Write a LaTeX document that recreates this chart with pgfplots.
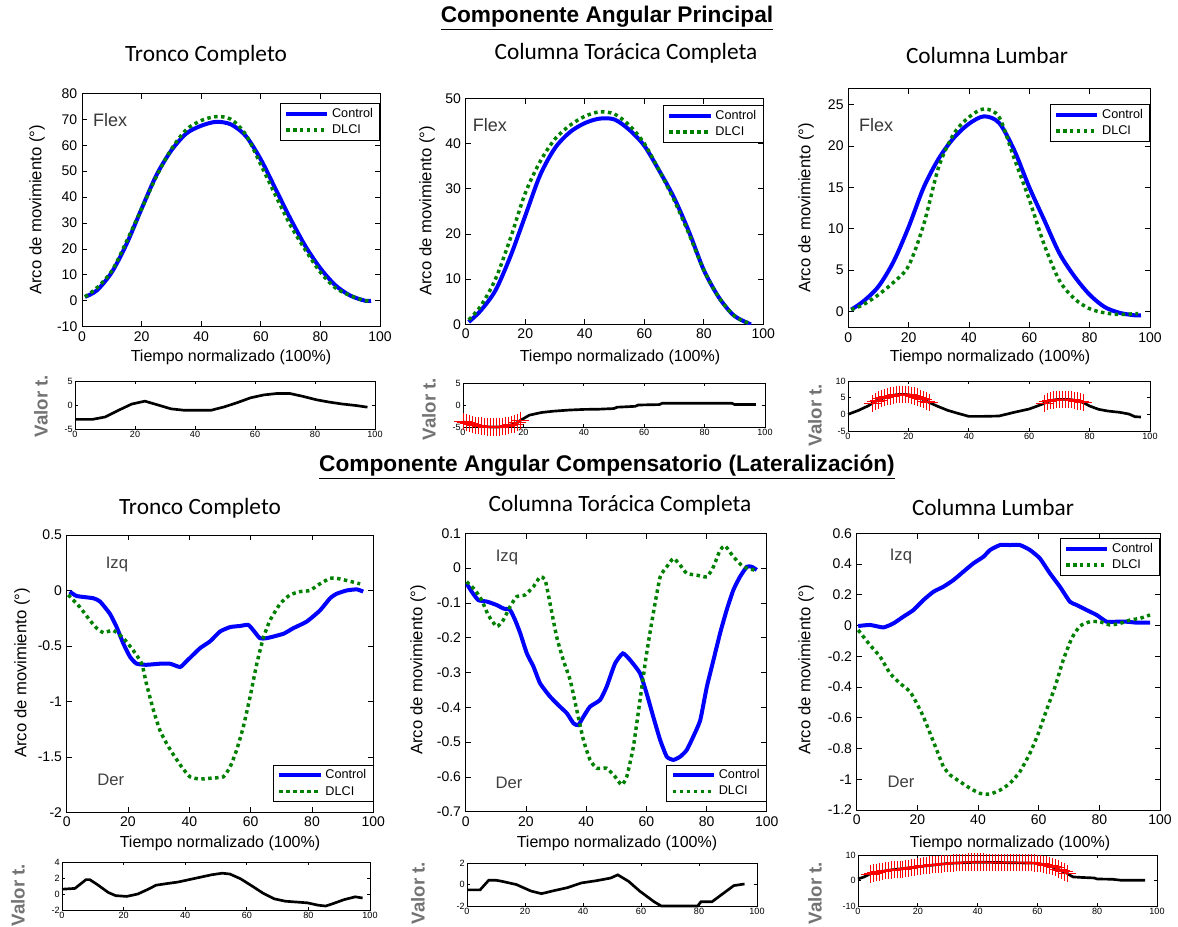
\documentclass[border=0pt]{standalone}
\usepackage{pgfplots}
\pgfplotsset{compat=1.18}
\usepackage{fontspec}
\setmainfont{Liberation Sans}
\newfontfamily\calib{Carlito}
\definecolor{dgreen}{rgb}{0,0.5,0}
\pgfplotsset{
 base/.style={scale only axis, anchor=north west, xmin=0, xmax=100, xtick={0,20,40,60,80,100},
   tick align=inside, tick pos=both, axis line style={line width=0.6pt},
   every tick/.style={line width=0.5pt, black}, /pgf/number format/assume math mode=true},
 mainax/.style={base, major tick length=4pt, ticklabel style={font=\fontsize{10.5}{12}\selectfont},
   legend style={draw=black, fill=white, line width=0.6pt, font=\fontsize{9.5}{11}\selectfont,
     inner xsep=3pt, inner ysep=1.5pt, legend cell align=left},
   legend image code/.code={\draw[#1] (0pt,0pt) -- (31pt,0pt);}},
 smallax/.style={base, major tick length=2pt, ticklabel style={font=\fontsize{6.8}{7}\selectfont, inner sep=1.5pt}, clip=false},
 ctrl/.style={blue, line width=3pt},
 dlci/.style={color=dgreen, line width=2.6pt, dash pattern=on 2.6pt off 2.6pt},
 tline/.style={black, line width=2pt},
 tred/.style={red, line width=1.2pt, mark=+, mark size=6.5pt, mark options={line width=0.55pt, solid}},
}
\tikzset{
 flexlab/.style={font=\fontsize{13.5}{15}\selectfont, text=black!78},
 sidelab/.style={font=\fontsize{12.5}{14}\selectfont, text=black!75},
 subt/.style={font=\calib\fontsize{17.5}{20}\selectfont},
 xlab/.style={font=\fontsize{12}{14}\selectfont},
 ylab/.style={font=\fontsize{12.5}{14}\selectfont, rotate=90},
 vlab/.style={font=\bfseries\fontsize{14}{16}\selectfont, text=black!55, rotate=90},
 bigt/.style={font=\bfseries\fontsize{17}{20}\selectfont},
}
\begin{document}
\begin{tikzpicture}
\fill[white] (0,0) rectangle (883.5pt,-694.5pt);
\useasboundingbox (0,0) rectangle (883.5pt,-694.5pt);

% ---------- top row main ----------
\begin{axis}[mainax, at={(61.5pt,-70pt)}, width=223.5pt, height=175pt, ymin=-10, ymax=80,
  ytick={-10,0,10,20,30,40,50,60,70,80}, legend style={at={(1,0.958)},anchor=north east}]
\addplot[ctrl, smooth] coordinates {(1,1.5)(5,4)(10,11)(15,22)(20,35.5)(25,48.5)(30,58)(35,64.5)(40,67.5)(45,69)(50,68)(55,63.5)(60,54.5)(65,43)(70,31.5)(75,21)(80,12.5)(85,6)(90,2)(95,0)(97,0)};
\addplot[dlci, smooth] coordinates {(1,1.5)(5,5)(10,11.5)(15,23)(20,35.5)(25,48)(30,58.5)(35,66)(40,69.5)(45,71)(50,70)(55,64)(60,52.5)(65,40.5)(70,29)(75,19.5)(80,11)(85,5)(90,2)(95,0)(97,0)};
\legend{Control,DLCI}
\node[flexlab] at (axis cs:9.4,69.6) {Flex};
\end{axis}

\begin{axis}[mainax, at={(349.3pt,-73.7pt)}, width=223.2pt, height=169.5pt, ymin=0, ymax=50,
  ytick={0,10,20,30,40,50}, legend style={at={(1,0.97)},anchor=north east}]
\addplot[ctrl, smooth] coordinates {(1,0.5)(5,3)(10,7.5)(15,15)(20,24)(25,33)(30,39)(35,42.5)(40,44.5)(45,45.5)(50,45.3)(55,43)(60,39.5)(65,34)(70,28)(75,20.5)(80,12)(85,6)(90,2)(95,0.2)(96,0)};
\addplot[dlci, smooth] coordinates {(1,1)(5,4)(10,10)(15,19)(20,29)(25,36)(30,41)(35,44)(40,46)(45,47)(50,46.5)(55,44)(60,40)(65,34)(70,27.5)(75,20)(80,12)(85,6)(90,2)(94,0.5)(96,0.3)};
\legend{Control,DLCI}
\node[flexlab] at (axis cs:8.1,44) {Flex};
\end{axis}

\begin{axis}[mainax, at={(636.2pt,-66.2pt)}, width=226.3pt, height=179.6pt, ymin=-2, ymax=27,
  ytick={0,5,10,15,20,25}, legend style={at={(1,0.934)},anchor=north east}]
\addplot[ctrl, smooth] coordinates {(1,0.2)(5,1.2)(10,3)(15,6)(20,10.2)(25,15)(30,18.5)(35,21)(40,22.7)(45,23.6)(50,22.8)(55,19.5)(60,15)(65,11)(70,7)(75,4.2)(80,2)(85,0.5)(90,-0.2)(95,-0.5)(97,-0.5)};
\addplot[dlci, smooth] coordinates {(1,0.2)(5,0.8)(10,2)(15,3.5)(20,5.5)(25,10.5)(30,17.5)(35,21.5)(40,23.5)(45,24.5)(50,23.5)(55,18.5)(60,13.5)(65,8)(70,3.7)(75,1.5)(80,0.3)(85,-0.2)(90,-0.4)(95,-0.3)(96,-0.3)};
\legend{Control,DLCI}
\node[flexlab] at (axis cs:9.2,22.5) {Flex};
\end{axis}

% ---------- top row t-values ----------
\begin{axis}[smallax, at={(56.25pt,-285.75pt)}, width=225pt, height=36pt, ymin=-5, ymax=5, ytick={-5,0,5}]
\addplot[tline] coordinates {(0,-3)(5.7,-3)(10,-2.5)(14.5,-1.1)(18.9,0.2)(23.3,0.8)(27.7,0)(32,-0.8)(36.5,-1.1)(40.9,-1.1)(45.3,-1.1)(49.7,-0.4)(54.1,0.5)(58.5,1.5)(62.9,2.1)(67.3,2.4)(71.6,2.4)(76,1.8)(80.4,1.1)(84.8,0.6)(89.2,0.2)(93.6,-0.1)(97.5,-0.45)};
\end{axis}

\begin{axis}[smallax, at={(347.25pt,-287.25pt)}, width=226.5pt, height=33pt, ymin=-5, ymax=5, ytick={-5,0,5}]
\addplot[tline] coordinates {(0,-3.8)(3,-4.4)(6,-4.8)(9,-5)(12,-5)(15,-4.7)(18,-4)(19,-3.5)(22,-2.3)(26,-1.7)(30,-1.4)(35,-1.15)(40,-1)(45,-0.95)(50,-0.8)(51,-0.5)(57,-0.3)(58,0)(65,0.1)(66,0.4)(89,0.4)(90,0.1)(97,0.1)};
\addplot[tred] coordinates {(0,-3.8)(1,-4.0)(2,-4.2)(3,-4.4)(4,-4.6)(5,-4.7)(6,-4.8)(7,-4.9)(8,-5.0)(9,-5.0)(10,-5.0)(11,-5.0)(12,-5.0)(13,-4.9)(14,-4.8)(15,-4.7)(16,-4.5)(17,-4.3)(18,-4.0)(19,-3.5)};
\end{axis}

\begin{axis}[smallax, at={(636pt,-285.75pt)}, width=226.5pt, height=37.5pt, ymin=-5, ymax=10, ytick={-5,0,5,10}]
\addplot[tline] coordinates {(0,0)(3.5,1.2)(6.8,2.6)(8,3.3)(10,4.3)(12,5)(14,5.5)(16,5.9)(18,6)(20,5.9)(22,5.5)(24,4.8)(26,4)(27,3.5)(30,2.3)(33,1.2)(36,0.4)(40,-0.6)(45,-0.6)(50,-0.5)(55,0.6)(60,1.6)(63,2.6)(65,3.3)(66,3.8)(68,4.3)(70,4.5)(72,4.5)(74,4.4)(76,4)(78,3.5)(80,2.5)(83,1.5)(86,1)(90,0.6)(93,0.1)(95,-0.7)(97,-0.8)};
\addplot[tred] coordinates {(8,3.3)(9,3.8)(10,4.3)(11,4.7)(12,5.0)(13,5.3)(14,5.5)(15,5.7)(16,5.9)(17,6.0)(18,6.0)(19,6.0)(20,5.9)(21,5.7)(22,5.5)(23,5.2)(24,4.8)(25,4.4)(26,4.0)(27,3.5)};
\addplot[tred] coordinates {(65,3.3)(66,3.8)(67,4.1)(68,4.3)(69,4.4)(70,4.5)(71,4.5)(72,4.5)(73,4.5)(74,4.4)(75,4.2)(76,4.0)(77,3.8)(78,3.5)};
\end{axis}

% ---------- bottom row main ----------
\begin{axis}[mainax, at={(50pt,-401.25pt)}, width=230pt, height=208pt, ymin=-2, ymax=0.5,
  ytick={-2,-1.5,-1,-0.5,0,0.5}, yticklabels={-2,-1.5,-1,-0.5,0,0.5},
  legend style={at={(1,0.037)},anchor=south east}]
\addplot[ctrl, smooth, tension=0.3] coordinates {(1,-0.01)(3.3,-0.05)(8.7,-0.07)(10.9,-0.10)(14.1,-0.21)(16.3,-0.33)(18.5,-0.48)(20.7,-0.60)(22.8,-0.66)(26,-0.67)(30.4,-0.66)(33.7,-0.66)(37,-0.69)(39,-0.64)(43.5,-0.52)(46.7,-0.46)(50,-0.37)(53.3,-0.33)(56.5,-0.32)(59.2,-0.31)(60.9,-0.36)(63,-0.43)(65.2,-0.43)(70.7,-0.39)(73.9,-0.34)(78.3,-0.28)(82.6,-0.18)(85.9,-0.07)(88,-0.03)(91.3,0)(94.6,0.01)(96.7,-0.01)};
\addplot[dlci, smooth, tension=0.3] coordinates {(0.5,-0.04)(4.3,-0.15)(7.6,-0.27)(9.8,-0.34)(12,-0.38)(15.2,-0.36)(18.5,-0.43)(21.7,-0.54)(24.5,-0.66)(26,-0.84)(28.3,-1.08)(30.4,-1.26)(32.6,-1.38)(34.8,-1.48)(37.5,-1.59)(40.2,-1.68)(43.5,-1.70)(47.8,-1.69)(51.1,-1.68)(53.3,-1.59)(55.4,-1.44)(57.6,-1.23)(59.8,-0.96)(62,-0.66)(64.1,-0.43)(66.3,-0.27)(69.6,-0.12)(72.8,-0.04)(76.1,-0.01)(79.3,0)(82.6,0.06)(85.9,0.11)(88,0.11)(91.3,0.09)(95.7,0.06)};
\legend{Control,DLCI}
\node[sidelab] at (axis cs:16.4,0.23) {Izq};
\node[sidelab] at (axis cs:14.4,-1.71) {Der};
\end{axis}

\begin{axis}[mainax, at={(349.3pt,-400pt)}, width=225.75pt, height=208.8pt, ymin=-0.7, ymax=0.1,
  ytick={-0.7,-0.6,-0.5,-0.4,-0.3,-0.2,-0.1,0,0.1}, yticklabels={-0.7,-0.6,-0.5,-0.4,-0.3,-0.2,-0.1,0,0.1},
  legend style={at={(1,0.035)},anchor=south east}]
\addplot[ctrl, smooth, tension=0.3] coordinates {(0.3,-0.044)(2,-0.068)(4.2,-0.092)(7,-0.096)(10.3,-0.106)(12.5,-0.116)(14.7,-0.12)(16.4,-0.149)(18.1,-0.187)(20.3,-0.245)(22.5,-0.283)(24.7,-0.331)(28,-0.369)(31.3,-0.398)(33.6,-0.417)(35.8,-0.446)(37.4,-0.451)(39.1,-0.427)(41.3,-0.398)(44.6,-0.379)(46.8,-0.341)(49.6,-0.274)(52.2,-0.245)(54.6,-0.264)(57.9,-0.302)(60.1,-0.36)(62.3,-0.427)(64.6,-0.494)(66.8,-0.542)(69,-0.551)(71.2,-0.542)(73.4,-0.523)(75.6,-0.484)(77.9,-0.437)(80.1,-0.341)(82.3,-0.264)(84.5,-0.187)(86.7,-0.12)(88.9,-0.063)(91.1,-0.025)(93.4,0.004)(95,0.004)(96.7,-0.005)};
\addplot[dlci, smooth, tension=0.3] coordinates {(0.3,-0.039)(3.1,-0.063)(5.3,-0.092)(7.5,-0.135)(10.3,-0.168)(12.5,-0.149)(14.7,-0.111)(16.9,-0.082)(19.7,-0.077)(22.5,-0.053)(24.7,-0.025)(26.4,-0.034)(28,-0.101)(30.2,-0.197)(32.4,-0.264)(34.7,-0.322)(36.9,-0.408)(39.1,-0.494)(41.3,-0.551)(43.5,-0.575)(46.8,-0.575)(49.6,-0.599)(51.8,-0.623)(53.5,-0.599)(55.7,-0.513)(57.9,-0.379)(60.1,-0.245)(62.3,-0.13)(64.6,-0.025)(66.8,0.004)(69,0.028)(71.2,0.009)(73.4,-0.015)(76.7,-0.02)(80.1,-0.025)(82.3,0.004)(84.5,0.052)(86.2,0.064)(88.9,0.033)(92.2,0.004)(95.6,-0.005)(96.7,-0.01)};
\legend{Control,DLCI}
\node[sidelab] at (axis cs:13.7,0.032) {Izq};
\node[sidelab] at (axis cs:14.4,-0.617) {Der};
\end{axis}

\begin{axis}[mainax, at={(642.5pt,-400pt)}, width=227.5pt, height=207.5pt, ymin=-1.2, ymax=0.6,
  ytick={-1.2,-1,-0.8,-0.6,-0.4,-0.2,0,0.2,0.4,0.6}, yticklabels={-1.2,-1,-0.8,-0.6,-0.4,-0.2,0,0.2,0.4,0.6},
  legend style={at={(1,0.983)},anchor=north east}]
\addplot[ctrl, smooth, tension=0.3] coordinates {(0.5,-0.003)(4.4,0.004)(8.8,-0.012)(12.1,0.014)(15.4,0.058)(18.7,0.101)(22,0.166)(25.3,0.22)(28.6,0.253)(31.9,0.296)(35.2,0.351)(38.5,0.405)(41.8,0.448)(44,0.492)(47.3,0.524)(50.5,0.524)(53.8,0.524)(57.1,0.492)(60.4,0.437)(63.7,0.34)(67,0.253)(70.3,0.155)(72.5,0.134)(75.8,0.101)(79.1,0.069)(82.4,0.025)(85.7,0.025)(89,0.025)(92.3,0.019)(96.7,0.019)};
\addplot[dlci, smooth, tension=0.3] coordinates {(0.5,-0.029)(4.4,-0.127)(7.7,-0.202)(11,-0.311)(14.3,-0.376)(17.6,-0.43)(19.8,-0.506)(22,-0.593)(24.2,-0.701)(26.4,-0.81)(28.6,-0.918)(30.8,-0.972)(34.1,-1.016)(37.4,-1.059)(40.7,-1.092)(44,-1.096)(47.3,-1.07)(50.5,-1.027)(53.8,-0.951)(57.1,-0.831)(59.9,-0.701)(62.6,-0.549)(65.4,-0.398)(68.1,-0.224)(70.9,-0.083)(73.6,-0.003)(76.9,0.025)(80.2,0.025)(83.5,0.004)(86.8,0.014)(90.1,0.036)(93.4,0.047)(96.7,0.069)};
\legend{Control,DLCI}
\node[sidelab] at (axis cs:14.6,0.45) {Izq};
\node[sidelab] at (axis cs:14.6,-1.02) {Der};
\end{axis}

% ---------- bottom row t-values ----------
\begin{axis}[smallax, at={(46.5pt,-646.5pt)}, width=231pt, height=36pt, ymin=-2, ymax=4, ytick={-2,0,2,4}]
\addplot[tline] coordinates {(0,0.6)(4.2,0.7)(7.8,1.8)(9,1.8)(11.4,1.2)(15,0.2)(17.4,-0.2)(21,-0.3)(24.6,0)(28,0.6)(30.5,1.1)(34,1.3)(37.7,1.5)(41.3,1.8)(44.9,2.1)(48.5,2.4)(52,2.6)(54.5,2.5)(58,1.9)(61.7,1.0)(65.3,0.1)(68.9,-0.6)(72.5,-0.9)(76,-1.0)(79.6,-1.1)(83.2,-1.4)(85.6,-1.5)(88,-1.2)(91.6,-0.7)(95.2,-0.35)(97.6,-0.5)};
\end{axis}

\begin{axis}[smallax, at={(350.25pt,-647.25pt)}, width=217.5pt, height=32.25pt, ymin=-2, ymax=2, ytick={-2,0,2}]
\addplot[tline] coordinates {(0,-0.5)(4.5,-0.5)(7.5,0.4)(10,0.4)(12,0.3)(17,0)(22,-0.6)(25.7,-0.85)(29.5,-0.6)(34.5,-0.3)(39.5,0.15)(44.5,0.35)(49.5,0.6)(52,0.9)(55.7,0.3)(59.5,-0.6)(64.5,-1.6)(67,-2)(79.5,-2)(80.7,-1.6)(84.5,-1.6)(88,-0.9)(92,-0.1)(95.7,0.05)};
\end{axis}

\begin{axis}[smallax, at={(643.5pt,-641.25pt)}, width=224.25pt, height=38.25pt, ymin=-10, ymax=10, ytick={-10,0,10}]
\addplot[tline] coordinates {(0,0.6)(2,1.4)(4,2.6)(10,4)(20,5.4)(30,6.7)(40,7.2)(50,7)(60,6.8)(65,5.4)(70,2.8)(71,2.0)(72,1.4)(75,1.2)(79,1.0)(80,0.6)(85,0.5)(88,0.1)(96,0.1)};
\addplot[tred] coordinates {(4,2.6)(5,3.0)(6,3.2)(7,3.4)(8,3.6)(9,3.8)(10,4.0)(11,4.1)(12,4.2)(13,4.2)(14,4.3)(15,4.4)(16,4.6)(17,4.8)(18,5.0)(19,5.2)(20,5.4)(21,5.6)(22,5.8)(23,6.0)(24,6.1)(25,6.2)(26,6.3)(27,6.4)(28,6.5)(29,6.6)(30,6.7)(31,6.8)(32,6.9)(33,7.0)(34,7.0)(35,7.1)(36,7.1)(37,7.2)(38,7.2)(39,7.2)(40,7.2)(41,7.2)(42,7.2)(43,7.1)(44,7.1)(45,7.1)(46,7.0)(47,7.0)(48,7.0)(49,7.0)(50,7.0)(51,7.0)(52,7.0)(53,7.0)(54,7.0)(55,7.0)(56,7.0)(57,7.0)(58,7.0)(59,6.9)(60,6.8)(61,6.6)(62,6.4)(63,6.1)(64,5.8)(65,5.4)(66,5.0)(67,4.5)(68,4.0)(69,3.4)(70,2.8)};
\end{axis}

% ---------- texts ----------
\node[bigt] at (455.25pt,-13.5pt) {\underline{Componente Angular Principal}};
\node[bigt] at (455.25pt,-350.25pt) {\underline{Componente Angular Compensatorio (Lateralización)}};

\node[subt] at (154.5pt,-41.25pt) {Tronco Completo};
\node[subt] at (469.5pt,-39.75pt) {Columna Torácica Completa};
\node[subt] at (740.25pt,-41.25pt) {Columna Lumbar};
\node[subt] at (150pt,-381pt) {Tronco Completo};
\node[subt] at (465pt,-378.75pt) {Columna Torácica Completa};
\node[subt] at (744.75pt,-380.25pt) {Columna Lumbar};

\node[xlab] at (173.25pt,-267.75pt) {Tiempo normalizado (100\%)};
\node[xlab] at (465pt,-267.75pt) {Tiempo normalizado (100\%)};
\node[xlab] at (742.5pt,-267.75pt) {Tiempo normalizado (100\%)};
\node[xlab] at (165pt,-632.25pt) {Tiempo normalizado (100\%)};
\node[xlab] at (462.75pt,-632.25pt) {Tiempo normalizado (100\%)};
\node[xlab] at (757.5pt,-632.25pt) {Tiempo normalizado (100\%)};

\node[ylab] at (27.75pt,-157.5pt) {Arco de movimiento (°)};
\node[ylab] at (320.25pt,-158.25pt) {Arco de movimiento (°)};
\node[ylab] at (604.5pt,-156pt) {Arco de movimiento (°)};
\node[ylab] at (16.5pt,-504.75pt) {Arco de movimiento (°)};
\node[ylab] at (313.5pt,-502.5pt) {Arco de movimiento (°)};
\node[ylab] at (604.5pt,-502.5pt) {Arco de movimiento (°)};

\node[vlab] at (30.75pt,-304.5pt) {Valor t.};
\node[vlab] at (321.75pt,-306.75pt) {Valor t.};
\node[vlab] at (611.25pt,-311.25pt) {Valor t.};
\node[vlab] at (13.5pt,-671.25pt) {Valor t.};
\node[vlab] at (313.5pt,-669.75pt) {Valor t.};
\node[vlab] at (611.25pt,-669.75pt) {Valor t.};
\end{tikzpicture}
\end{document}
